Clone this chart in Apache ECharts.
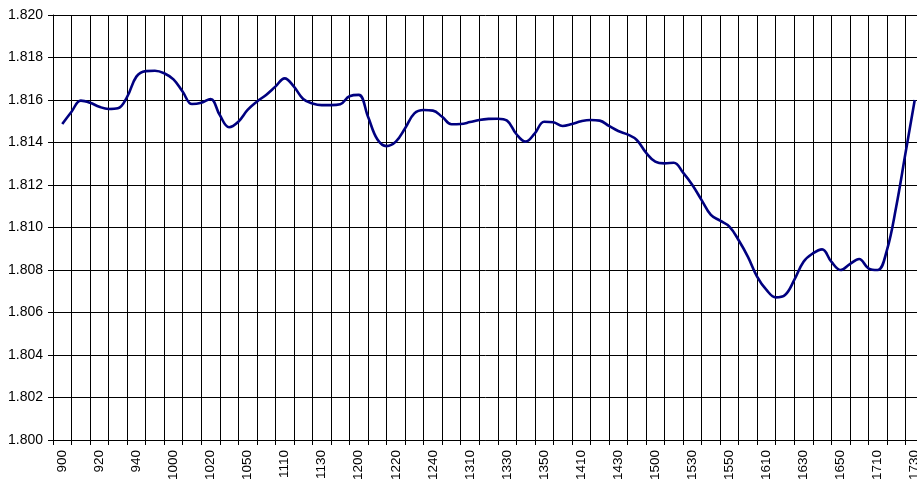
<!DOCTYPE html>
<html>
<head>
<meta charset="utf-8">
<script src="https://cdn.jsdelivr.net/npm/echarts@6/dist/echarts.min.js"></script>
<style>
  html, body { margin: 0; padding: 0; background: #fff; }
  #chart { width: 917px; height: 482px; }
</style>
</head>
<body>
<div id="chart"></div>
<script>
// 时间点 (hhmm), every 4th one is labelled
var times = [
    '900', '905', '910', '915', '920', '925', '930', '935',
    '940', '945', '950', '955', '1000', '1005', '1010', '1015',
    '1020', '1030', '1035', '1040', '1050', '1055', '1100', '1105',
    '1110', '1115', '1120', '1125', '1130', '1135', '1140', '1150',
    '1200', '1205', '1210', '1215', '1220', '1225', '1230', '1235',
    '1240', '1250', '1255', '1300', '1310', '1315', '1320', '1325',
    '1330', '1335', '1340', '1345', '1350', '1355', '1400', '1405',
    '1410', '1415', '1420', '1425', '1430', '1440', '1445', '1450',
    '1500', '1510', '1515', '1520', '1530', '1535', '1540', '1545',
    '1550', '1555', '1600', '1605', '1610', '1615', '1620', '1625',
    '1630', '1635', '1640', '1645', '1650', '1655', '1700', '1705',
    '1710', '1715', '1720', '1725', '1730'
];

var values = [
    1.81487, 1.81545, 1.81597, 1.81587, 1.81568, 1.81558, 1.81561, 1.81615,
    1.81710, 1.81736, 1.81738, 1.81726, 1.81697, 1.81639, 1.81581, 1.81587,
    1.81605, 1.81529, 1.81472, 1.81498, 1.81553, 1.81592, 1.81624, 1.81663,
    1.81702, 1.81663, 1.81605, 1.81584, 1.81576, 1.81576, 1.81580, 1.81618,
    1.81624, 1.81521, 1.81415, 1.81383, 1.81404, 1.81467, 1.81537, 1.81553,
    1.81550, 1.81521, 1.81486, 1.81487, 1.81496, 1.81506, 1.81511, 1.81512,
    1.81503, 1.81440, 1.81404, 1.81443, 1.81498, 1.81495, 1.81478, 1.81487,
    1.81500, 1.81506, 1.81503, 1.81478, 1.81454, 1.81438, 1.81412, 1.81352,
    1.81310, 1.81302, 1.81305, 1.81258, 1.81200, 1.81129, 1.81059, 1.81032,
    1.81004, 1.80940, 1.80862, 1.80768, 1.80706, 1.80671, 1.80682, 1.80753,
    1.80839, 1.80878, 1.80897, 1.80839, 1.80800, 1.80828, 1.80852, 1.80808,
    1.80800, 1.80894, 1.81098, 1.81349, 1.81600
];

var yMin = 1.800;
var yMax = 1.820;
var yStep = 0.002;

// empty slots on each side, so the grid lines fall between the points
var axisData = [''].concat(times, ['']);
var lineData = [null].concat(values, [null]);

var font = '"Liberation Sans", Arial, sans-serif';

var myChart = echarts.init(document.getElementById('chart'), null, { renderer: 'canvas' });

var option = {
    animation: false,
    backgroundColor: '#fff',
    grid: {
        left: 53, right: -7, top: 15, bottom: 42,
        containLabel: false,
        outerBoundsMode: 'none'
    },
    xAxis: {
        type: 'category',
        data: axisData,
        boundaryGap: false,
        axisLine: { show: true, lineStyle: { color: '#000', width: 1 } },
        axisTick: {
            show: true, length: 5, inside: false,
            interval: function (idx) { return idx % 2 === 0; },
            lineStyle: { color: '#000' }
        },
        axisLabel: {
            interval: function (idx) { return idx % 4 === 1; },
            rotate: 90,
            margin: 10,
            color: '#000',
            fontSize: 13.5,
            fontFamily: font
        },
        splitLine: {
            show: true,
            interval: function (idx) { return idx % 2 === 0; },
            lineStyle: { color: '#000', width: 1 }
        }
    },
    yAxis: {
        type: 'value',
        min: yMin,
        max: yMax,
        interval: yStep,
        axisLine: { show: true, lineStyle: { color: '#000', width: 1 } },
        axisTick: { show: true, length: 5, lineStyle: { color: '#000' } },
        axisLabel: {
            margin: 10,
            color: '#000',
            fontSize: 14,
            fontFamily: font,
            formatter: function (v) { return v.toFixed(3); }
        },
        splitLine: { show: true, lineStyle: { color: '#000', width: 1 } }
    },
    series: [{
        type: 'line',
        data: lineData,
        smooth: 0.4,
        showSymbol: false,
        connectNulls: false,
        lineStyle: { color: '#000080', width: 2.6 },
        itemStyle: { color: '#000080' }
    }]
};

myChart.setOption(option);
</script>
</body>
</html>
